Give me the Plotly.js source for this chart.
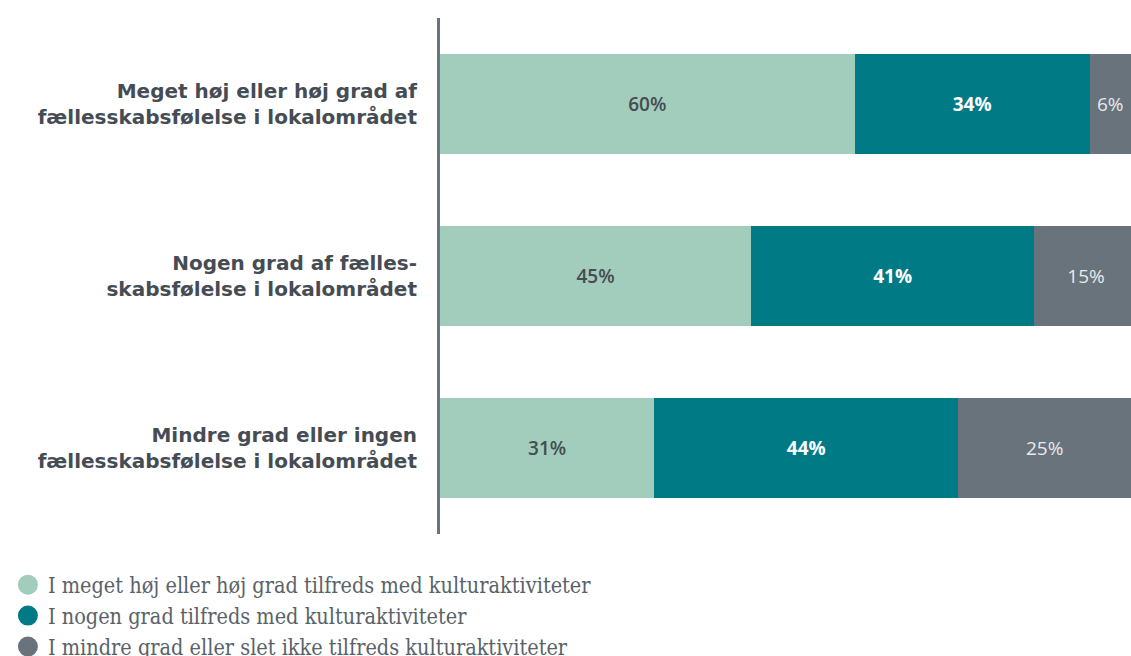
<!DOCTYPE html>
<html>
<head>
<meta charset="utf-8">
<script src="https://cdn.plot.ly/plotly-3.0.1.min.js"></script>
<style>html,body{margin:0;padding:0;background:#fff;}#chart{width:1131px;height:656px;}</style>
</head>
<body>
<div id="chart"></div>
<script>
const categories = [
  "Meget høj eller høj grad af<br>fællesskabsfølelse i lokalområdet",
  "Nogen grad af fælles-<br>skabsfølelse i lokalområdet",
  "Mindre grad eller ingen<br>fællesskabsfølelse i lokalområdet"
];
const seriesNames = [
  "I meget høj eller høj grad tilfreds med kulturaktiviteter",
  "I nogen grad tilfreds med kulturaktiviteter",
  "I mindre grad eller slet ikke tilfreds kulturaktiviteter"
];
const highValues = [60, 45, 31];
const someValues = [34, 41, 44];
const lowValues = [6, 15, 25];

const colors = ["#a2cdbc", "#007b86", "#68737c"];
const textColors = ["#454c52", "#ffffff", "#e8eaec"];
const textWeights = [600, 700, 400];
const allValues = [highValues, someValues, lowValues];

const traces = allValues.map((vals, i) => ({
  type: "bar",
  orientation: "h",
  x: vals,
  y: categories,
  name: seriesNames[i],
  marker: {color: colors[i], line: {width: 0}},
  text: vals.map(v => v + "%"),
  textposition: "inside",
  insidetextanchor: "middle",
  textangle: 0,
  constraintext: "none",
  cliponaxis: true,
  textfont: {family: "Open Sans, sans-serif", size: 19, color: textColors[i], weight: textWeights[i]},
  hoverinfo: "skip",
  showlegend: false
}));

const legendTraces = seriesNames.map((n, i) => ({
  type: "scatter",
  mode: "markers",
  x: [null],
  y: [null],
  name: n,
  marker: {color: colors[i], size: 20, symbol: "circle", line: {color: colors[i], width: 4}},
  showlegend: true,
  hoverinfo: "skip"
}));

const layout = {
  width: 1131,
  height: 656,
  margin: {l: 440, r: 0, t: 18, b: 122, pad: 0, autoexpand: false},
  barmode: "stack",
  bargap: 0.413,
  paper_bgcolor: "#ffffff",
  plot_bgcolor: "#ffffff",
  showlegend: true,
  xaxis: {
    range: [0, 100],
    visible: false,
    fixedrange: true,
    automargin: false
  },
  yaxis: {
    type: "category",
    autorange: "reversed",
    automargin: false,
    showline: true,
    linecolor: "#6b747c",
    linewidth: 3,
    showgrid: false,
    zeroline: false,
    ticks: "",
    ticklabelstandoff: 16,
    tickfont: {family: "DejaVu Sans, sans-serif", size: 20, color: "#454c54", weight: 700},
    fixedrange: true
  },
  legend: {
    xref: "container",
    yref: "container",
    x: 0.007,
    y: 0.14,
    xanchor: "left",
    yanchor: "top",
    orientation: "v",
    traceorder: "normal",
    font: {family: "DejaVu Serif Condensed, DejaVu Serif, serif", size: 21.5, color: "#5a6269"},
    itemsizing: "trace",
    tracegroupgap: 0,
    bgcolor: "rgba(0,0,0,0)"
  }
};

Plotly.newPlot("chart", traces.concat(legendTraces), layout, {displayModeBar: false, staticPlot: true});
</script>
</body>
</html>
